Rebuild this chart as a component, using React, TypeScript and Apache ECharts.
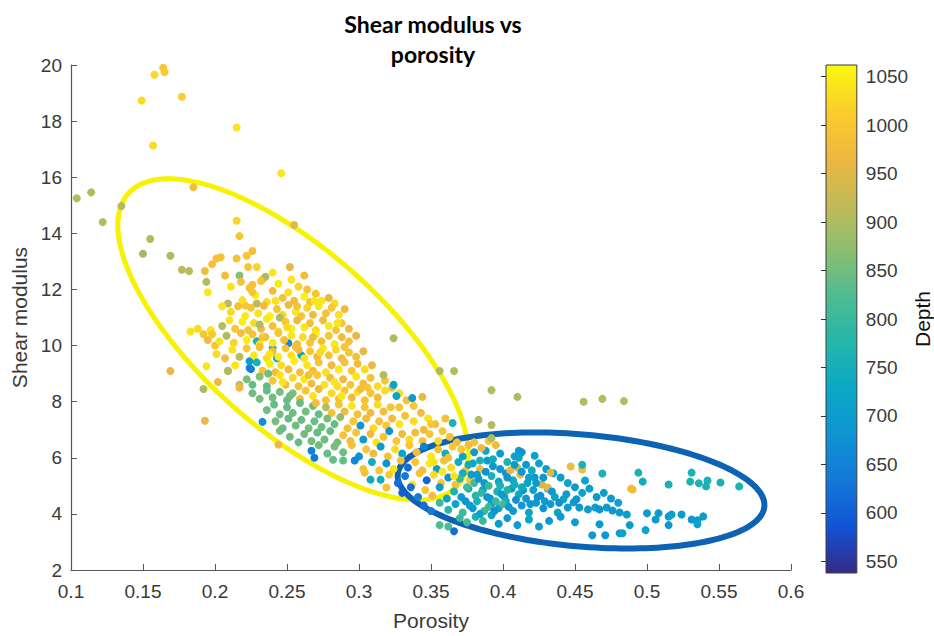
import React, { useEffect, useRef } from 'react';
import * as echarts from 'echarts';

// Each point: [porosity, shear modulus, depth]
const upperScatter = [
  [0.104, 15.25, 905], [0.114, 15.46, 905], [0.122, 14.4, 905], [0.135, 14.97, 905],
  [0.149, 18.73, 1030], [0.158, 19.65, 1030], [0.164, 19.9, 1000], [0.165, 19.75, 1010],
  [0.177, 18.87, 1010], [0.157, 17.13, 1030], [0.215, 17.77, 1040], [0.246, 16.14, 1040],
  [0.185, 15.64, 980], [0.215, 14.45, 1020], [0.217, 13.9, 1000], [0.255, 14.3, 950],
  [0.155, 13.8, 905], [0.15, 13.27, 890], [0.169, 13.2, 900], [0.177, 12.7, 910],
  [0.182, 12.66, 910], [0.193, 12.66, 980], [0.194, 12.27, 900], [0.195, 11.9, 1040],
  [0.198, 12.9, 990], [0.201, 13.1, 990], [0.204, 13.15, 990], [0.207, 12.5, 980],
  [0.209, 11.5, 910], [0.211, 12.1, 1040], [0.215, 13.1, 990], [0.217, 12.5, 870],
  [0.222, 13.2, 1000], [0.226, 13.37, 990], [0.223, 12.8, 1000], [0.229, 12.8, 1020],
  [0.226, 12.17, 990], [0.233, 12.35, 1020], [0.252, 12.8, 960], [0.218, 12.27, 990],
  [0.235, 12.45, 900], [0.205, 11.4, 1040], [0.221, 11.43, 1000], [0.24, 12.6, 1040],
  [0.262, 12.5, 980],
];

const leftScatter = [
  [0.169, 9.09, 960], [0.193, 7.32, 960], [0.192, 8.45, 900], [0.194, 9.26, 1040],
  [0.202, 8.7, 970], [0.209, 9.09, 900], [0.183, 10.5, 1040], [0.188, 10.6, 1030],
  [0.192, 10.4, 1000], [0.197, 10.55, 1040], [0.195, 10.2, 980], [0.2, 10.0, 1000],
  [0.217, 8.6, 910], [0.224, 9.2, 660], [0.243, 9.55, 720], [0.26, 9.65, 700],
  [0.229, 10.15, 760], [0.24, 9.9, 740], [0.251, 10.08, 660], [0.224, 9.44, 700],
  [0.233, 7.28, 670], [0.245, 6.96, 850], [0.244, 6.47, 970],
];

const coreUpper = [
  [0.219, 11.62, 1040], [0.224, 12.05, 990], [0.228, 11.8, 1050], [0.232, 12.3, 1000],
  [0.236, 11.55, 1030], [0.24, 11.95, 975], [0.244, 12.2, 1045], [0.247, 11.7, 990],
  [0.251, 11.9, 1035], [0.255, 11.6, 980], [0.258, 12.1, 1020], [0.262, 11.75, 1050],
  [0.266, 11.55, 985], [0.27, 11.85, 1000], [0.274, 11.6, 1040], [0.279, 11.7, 960],
  [0.283, 11.5, 1030], [0.229, 11.5, 910], [0.253, 12.35, 1040], [0.264, 12.0, 995],
  [0.211, 11.2, 1030], [0.216, 11.4, 985], [0.221, 11.05, 1045], [0.225, 11.35, 1000],
  [0.23, 11.15, 1035], [0.234, 11.42, 970], [0.238, 11.05, 1050], [0.243, 11.3, 990],
  [0.247, 11.1, 1030], [0.251, 11.45, 975], [0.256, 11.2, 1040], [0.26, 11.05, 995],
  [0.264, 11.35, 1020], [0.268, 11.1, 980], [0.272, 11.4, 1045], [0.277, 11.15, 990],
  [0.281, 11.35, 1000], [0.286, 11.1, 1035], [0.29, 11.3, 970], [0.245, 11.0, 900],
  [0.205, 10.7, 910], [0.21, 10.9, 1040], [0.214, 10.6, 1000], [0.219, 10.85, 1050],
  [0.223, 10.55, 990], [0.227, 10.8, 1030], [0.232, 10.6, 975], [0.236, 10.95, 1045],
  [0.24, 10.7, 985], [0.244, 10.5, 1035], [0.249, 10.85, 1000], [0.253, 10.6, 1050],
  [0.257, 10.9, 970], [0.262, 10.65, 1040], [0.266, 10.8, 990], [0.27, 10.55, 1030],
  [0.275, 10.9, 980], [0.279, 10.7, 1045], [0.284, 10.55, 995], [0.288, 10.8, 1000],
  [0.293, 10.6, 975], [0.231, 10.75, 900],
  [0.198, 10.4, 1000], [0.203, 10.15, 1040], [0.208, 10.35, 900], [0.213, 10.1, 1020],
  [0.218, 10.45, 985], [0.222, 10.2, 1050], [0.226, 10.4, 990], [0.231, 10.05, 1035],
  [0.235, 10.3, 975], [0.24, 10.1, 1045], [0.244, 10.45, 1000], [0.248, 10.2, 985],
  [0.253, 10.35, 1040], [0.257, 10.05, 970], [0.261, 10.3, 1030], [0.266, 10.1, 995],
  [0.27, 10.4, 1050], [0.274, 10.15, 985], [0.279, 10.35, 1000], [0.283, 10.05, 1040],
  [0.288, 10.3, 975], [0.293, 10.15, 990], [0.298, 10.35, 960],
  [0.201, 9.7, 1030], [0.207, 9.55, 980], [0.212, 9.85, 1040], [0.217, 9.6, 910],
  [0.222, 9.9, 1000], [0.227, 9.65, 1045], [0.231, 9.95, 985], [0.236, 9.55, 1030],
  [0.24, 9.8, 970], [0.244, 9.6, 1050], [0.249, 9.9, 995], [0.253, 9.65, 1035],
  [0.258, 9.85, 980], [0.262, 9.55, 1040], [0.266, 9.8, 1000], [0.271, 9.6, 970],
  [0.275, 9.9, 1045], [0.279, 9.65, 990], [0.284, 9.85, 1030], [0.288, 9.55, 975],
  [0.293, 9.75, 1000], [0.298, 9.6, 985], [0.303, 9.8, 960],
  [0.226, 11.9, 1000], [0.242, 11.6, 1035], [0.257, 11.4, 990], [0.269, 11.6, 1045],
  [0.233, 10.3, 1000], [0.25, 10.65, 1030], [0.268, 10.3, 980], [0.285, 10.8, 1040],
  [0.238, 9.7, 1040], [0.256, 9.95, 985], [0.273, 9.75, 1030], [0.29, 9.95, 995],
];

const coreMiddle = [
  [0.209, 9.1, 900], [0.214, 9.3, 1040], [0.225, 9.16, 650], [0.229, 9.4, 760],
  [0.233, 9.1, 1000], [0.238, 9.35, 1045], [0.242, 9.05, 985], [0.246, 9.3, 1030],
  [0.251, 9.15, 975], [0.255, 9.45, 1050], [0.259, 9.05, 990], [0.264, 9.3, 1040],
  [0.268, 9.1, 980], [0.272, 9.4, 1000], [0.277, 9.05, 1035], [0.281, 9.3, 970],
  [0.286, 9.15, 1045], [0.29, 9.4, 990], [0.295, 9.1, 1000], [0.299, 9.35, 980],
  [0.304, 9.15, 1030], [0.309, 9.3, 965], [0.237, 9.0, 850],
  [0.217, 8.5, 970], [0.222, 8.8, 860], [0.226, 8.6, 840], [0.231, 8.9, 870],
  [0.236, 8.55, 835], [0.24, 8.75, 1000], [0.245, 8.95, 1040], [0.249, 8.6, 985],
  [0.254, 8.85, 1030], [0.258, 8.55, 990], [0.262, 8.8, 1045], [0.267, 8.65, 975],
  [0.271, 8.95, 1000], [0.276, 8.6, 1040], [0.28, 8.85, 985], [0.285, 8.55, 1030],
  [0.289, 8.8, 970], [0.294, 8.6, 1000], [0.298, 8.9, 1045], [0.303, 8.65, 980],
  [0.308, 8.85, 990], [0.313, 8.55, 1030],
  [0.226, 8.3, 850], [0.231, 8.1, 855], [0.236, 8.4, 840], [0.24, 8.15, 850],
  [0.245, 8.35, 855], [0.25, 8.05, 840], [0.254, 8.3, 865], [0.259, 8.1, 980],
  [0.263, 8.4, 1000], [0.268, 8.2, 1040], [0.272, 8.45, 975], [0.277, 8.05, 990],
  [0.281, 8.3, 1030], [0.286, 8.1, 985], [0.29, 8.4, 1000], [0.295, 8.15, 970],
  [0.299, 8.35, 1040], [0.304, 8.05, 990], [0.308, 8.3, 1000], [0.313, 8.15, 975],
  [0.318, 8.4, 1030],
  [0.236, 7.7, 850], [0.241, 7.9, 840], [0.245, 7.55, 855], [0.25, 7.8, 845],
  [0.254, 7.6, 850], [0.259, 7.95, 840], [0.263, 7.65, 855], [0.268, 7.85, 845],
  [0.272, 7.55, 840], [0.277, 7.8, 910], [0.281, 7.6, 990], [0.286, 7.9, 1000],
  [0.29, 7.65, 975], [0.295, 7.85, 1040], [0.299, 7.55, 990], [0.304, 7.8, 1000],
  [0.308, 7.6, 970], [0.313, 7.9, 1030], [0.317, 7.65, 985], [0.322, 7.8, 1000],
  [0.247, 8.7, 1040], [0.265, 8.95, 990], [0.283, 8.7, 1040], [0.301, 8.45, 985],
  [0.252, 8.2, 850], [0.27, 7.95, 985], [0.288, 8.2, 1045], [0.306, 8.5, 1000],
];

const coreLower = [
  [0.242, 7.3, 855], [0.247, 7.05, 845], [0.251, 7.4, 840], [0.256, 7.15, 850],
  [0.26, 7.35, 840], [0.265, 7.05, 855], [0.269, 7.3, 845], [0.274, 7.1, 850],
  [0.278, 7.4, 855], [0.283, 7.2, 840], [0.287, 7.45, 880], [0.292, 7.05, 990],
  [0.296, 7.3, 1000], [0.301, 7.15, 690], [0.305, 7.4, 975], [0.31, 7.05, 1030],
  [0.314, 7.3, 990], [0.319, 7.15, 1000], [0.323, 7.4, 980], [0.328, 7.2, 1040],
  [0.252, 6.75, 850], [0.258, 6.55, 840], [0.262, 6.85, 855], [0.267, 6.6, 850],
  [0.271, 6.9, 840], [0.276, 6.65, 850], [0.28, 6.95, 840], [0.285, 6.55, 855],
  [0.289, 6.8, 990], [0.294, 6.6, 980], [0.298, 6.9, 1000], [0.303, 6.65, 700],
  [0.308, 6.85, 970], [0.312, 6.55, 1040], [0.317, 6.75, 990], [0.321, 6.95, 680],
  [0.326, 6.6, 1000], [0.33, 6.85, 975], [0.335, 6.65, 1030], [0.339, 6.9, 985],
  [0.344, 6.6, 990],
  [0.267, 6.25, 650], [0.272, 6.45, 850], [0.278, 6.15, 840], [0.283, 6.4, 855],
  [0.289, 6.2, 850], [0.295, 6.45, 990], [0.3, 6.05, 680], [0.305, 6.3, 1000],
  [0.31, 6.15, 975], [0.315, 6.4, 700], [0.32, 6.05, 990], [0.325, 6.3, 1030],
  [0.33, 6.15, 720], [0.335, 6.45, 1000], [0.34, 6.2, 980], [0.345, 6.4, 650],
  [0.35, 6.05, 1040], [0.355, 6.3, 985], [0.36, 6.15, 740],
];

const coreRightEdge = [
  [0.318, 8.75, 1000], [0.323, 8.5, 975], [0.328, 8.3, 1030], [0.333, 8.05, 990],
  [0.338, 7.85, 1000], [0.343, 7.6, 975], [0.348, 7.4, 1040], [0.353, 7.2, 985],
  [0.358, 6.95, 1000], [0.363, 6.75, 990], [0.355, 6.6, 1030], [0.368, 6.55, 980],
  [0.349, 6.85, 1000], [0.356, 9.09, 905], [0.366, 9.09, 905], [0.317, 8.95, 905],
  [0.324, 10.26, 905], [0.324, 8.6, 720], [0.326, 8.2, 720], [0.337, 8.13, 700],
  [0.344, 8.17, 960], [0.365, 7.24, 760], [0.36, 7.4, 990], [0.35, 7.2, 1000],
  [0.345, 7.0, 970], [0.338, 7.3, 1030], [0.332, 7.5, 990], [0.328, 7.8, 1000],
];

const transition = [
  [0.269, 6.0, 640], [0.282, 5.93, 840], [0.289, 5.9, 840], [0.297, 5.9, 660],
  [0.303, 5.6, 990], [0.309, 5.85, 740], [0.314, 5.55, 1000], [0.319, 5.8, 680],
  [0.324, 5.6, 1040], [0.329, 5.9, 990], [0.334, 5.65, 620], [0.339, 5.85, 1000],
  [0.344, 5.55, 980], [0.349, 5.8, 1045], [0.354, 5.6, 700], [0.359, 5.9, 990],
  [0.364, 5.65, 1030], [0.369, 5.85, 740], [0.374, 5.55, 1000], [0.379, 5.8, 720],
  [0.384, 5.6, 980], [0.389, 5.9, 700],
  [0.304, 5.47, 990], [0.308, 5.22, 740], [0.315, 5.22, 740], [0.321, 5.4, 1000],
  [0.327, 5.1, 620], [0.332, 5.35, 640], [0.337, 5.05, 1040], [0.342, 5.45, 990],
  [0.347, 5.2, 610], [0.352, 5.4, 1030], [0.357, 5.1, 1000], [0.362, 5.3, 680],
  [0.367, 5.05, 990], [0.372, 5.45, 740], [0.377, 5.2, 1000], [0.382, 5.4, 720],
  [0.387, 5.1, 700], [0.392, 5.35, 760], [0.397, 5.15, 720], [0.402, 5.45, 700],
  [0.407, 5.2, 740], [0.412, 5.4, 960], [0.417, 5.1, 720], [0.422, 5.3, 700],
];

const blueCluster = [
  [0.319, 4.94, 990], [0.33, 4.75, 600], [0.336, 4.95, 620], [0.341, 4.6, 640],
  [0.346, 4.85, 1000], [0.351, 4.65, 980], [0.356, 4.95, 700], [0.361, 4.55, 720],
  [0.366, 4.8, 760], [0.371, 4.6, 700], [0.376, 4.9, 740], [0.381, 4.65, 780],
  [0.386, 4.85, 720], [0.391, 4.55, 700], [0.396, 4.8, 760], [0.401, 4.6, 720],
  [0.406, 4.9, 700], [0.411, 4.7, 740], [0.416, 4.55, 700], [0.421, 4.85, 720],
  [0.426, 4.65, 680], [0.431, 4.9, 700], [0.436, 4.6, 720], [0.442, 4.52, 720],
  [0.449, 4.41, 700], [0.451, 4.52, 680],
  [0.345, 4.3, 620], [0.35, 4.1, 640], [0.356, 4.4, 800], [0.362, 4.15, 780],
  [0.367, 4.35, 720], [0.372, 4.05, 800], [0.377, 4.3, 700], [0.382, 4.45, 760],
  [0.387, 4.1, 800], [0.392, 4.35, 700], [0.397, 4.2, 720], [0.402, 4.45, 740],
  [0.407, 4.1, 700], [0.413, 4.3, 690], [0.418, 4.05, 720], [0.423, 4.4, 700],
  [0.428, 4.2, 680], [0.433, 4.35, 700], [0.438, 4.05, 720], [0.445, 4.23, 700],
  [0.453, 4.23, 690], [0.459, 4.16, 700], [0.464, 4.23, 720], [0.467, 4.16, 680],
  [0.472, 4.23, 700], [0.476, 4.12, 690], [0.481, 4.05, 700], [0.486, 3.98, 710],
  [0.5, 4.02, 700], [0.508, 4.02, 690],
  [0.356, 3.6, 820], [0.362, 3.55, 820], [0.366, 3.38, 620], [0.37, 3.85, 800],
  [0.375, 3.7, 810], [0.381, 3.9, 760], [0.386, 3.75, 800], [0.392, 3.95, 720],
  [0.397, 3.65, 700], [0.403, 3.85, 690], [0.41, 3.6, 700], [0.418, 3.8, 720],
  [0.425, 3.55, 700], [0.432, 3.75, 690], [0.44, 3.9, 700], [0.45, 3.7, 710],
  [0.462, 3.24, 700], [0.467, 3.63, 700], [0.471, 3.24, 690], [0.481, 3.31, 700],
  [0.483, 3.31, 710], [0.488, 3.6, 700], [0.499, 3.42, 720], [0.506, 3.8, 700],
  [0.515, 3.91, 700], [0.515, 3.6, 690], [0.517, 3.98, 710], [0.524, 3.98, 700],
  [0.531, 3.8, 690], [0.535, 3.77, 700], [0.535, 3.63, 710], [0.539, 3.91, 700],
  [0.372, 6.05, 720], [0.376, 5.75, 740], [0.38, 6.2, 700], [0.384, 5.9, 760],
  [0.388, 6.25, 720], [0.393, 5.95, 740], [0.398, 6.15, 700], [0.403, 5.85, 760],
  [0.408, 6.05, 720], [0.411, 6.25, 700], [0.413, 6.2, 680], [0.411, 6.0, 720],
  [0.422, 6.07, 720], [0.416, 5.75, 700], [0.42, 5.55, 740], [0.425, 5.8, 720],
  [0.43, 5.6, 700], [0.435, 5.45, 720], [0.44, 5.3, 700], [0.427, 5.05, 930],
  [0.431, 4.94, 950], [0.433, 5.47, 950], [0.445, 5.1, 720], [0.45, 4.95, 700],
  [0.455, 4.75, 720], [0.46, 4.9, 700], [0.465, 4.6, 690], [0.47, 4.75, 710],
  [0.475, 4.55, 700], [0.48, 4.4, 720],
  [0.375, 4.95, 800], [0.38, 5.1, 810], [0.385, 4.75, 790], [0.39, 5.0, 800],
  [0.37, 5.25, 800], [0.395, 4.45, 800], [0.4, 4.35, 810], [0.39, 4.25, 800],
  [0.352, 5.85, 1040], [0.358, 5.5, 1045], [0.362, 6.0, 990], [0.366, 5.35, 1040],
  [0.371, 6.3, 1000], [0.376, 6.45, 980], [0.38, 6.55, 990], [0.365, 6.4, 1000],
  [0.385, 6.35, 970], [0.39, 6.6, 1000], [0.395, 6.45, 980], [0.392, 6.7, 900],
  [0.405, 5.55, 960], [0.41, 5.65, 930],
  [0.374, 4.45, 690], [0.379, 4.2, 700], [0.384, 4.0, 720], [0.389, 4.6, 690],
  [0.394, 4.1, 680], [0.399, 4.7, 700], [0.404, 4.25, 690], [0.409, 4.5, 680],
  [0.414, 4.85, 700], [0.419, 4.35, 690], [0.424, 4.6, 680], [0.429, 4.45, 700],
  [0.434, 4.8, 690], [0.439, 4.4, 680], [0.444, 4.7, 700], [0.378, 5.4, 700],
  [0.383, 5.25, 690], [0.388, 5.5, 680], [0.393, 5.7, 700], [0.398, 5.6, 690],
  [0.403, 5.3, 680], [0.408, 5.75, 700], [0.413, 5.5, 690], [0.418, 5.3, 720],
  [0.423, 5.1, 700], [0.428, 5.3, 690], [0.398, 5.0, 760], [0.403, 4.85, 770],
  [0.408, 5.05, 750], [0.413, 4.95, 740],
];

const rightOutliers = [
  [0.392, 8.41, 905], [0.41, 8.17, 905], [0.456, 8.0, 905], [0.469, 8.1, 905],
  [0.484, 8.02, 905], [0.383, 7.35, 905], [0.392, 7.17, 905], [0.447, 5.69, 980],
  [0.455, 5.58, 980], [0.489, 4.9, 980], [0.49, 4.87, 980], [0.455, 5.75, 760],
  [0.469, 5.44, 760], [0.457, 5.19, 720], [0.494, 5.47, 760], [0.497, 5.15, 740],
  [0.515, 5.05, 760], [0.531, 5.47, 760], [0.53, 5.15, 760], [0.536, 5.09, 760],
  [0.542, 5.19, 760], [0.541, 4.98, 760], [0.551, 5.12, 760], [0.564, 4.98, 760],
];

const depthMin = 538;
const depthMax = 1062;
const depthTicks = [550, 600, 650, 700, 750, 800, 850, 900, 950, 1000, 1050];

// parula-like colour map, low depth -> high depth
const parula = [
  '#352a87', '#1253d4', '#1478d8', '#0f93d2', '#0aa8c6', '#25b5aa',
  '#4fbc90', '#8cbe70', '#c3ba57', '#efb740', '#fbcd2c', '#f9f90e',
];

// annotation ellipses: centre in data units, semi-axes in px, tilt in degrees (clockwise)
const yellowEllipse = [[0.2542, 10.22, 220, 90, 41.5]];
const blueEllipse = [[0.4542, 4.835, 184, 56, 5]];

const points = [
  ...upperScatter, ...leftScatter, ...coreUpper, ...coreMiddle, ...coreLower,
  ...coreRightEdge, ...transition, ...blueCluster, ...rightOutliers,
];

const axisColor = '#555555';
const labelColor = '#3a3a3a';
const fontFamily = "'Liberation Sans', Arial, sans-serif";

function ellipseRenderer(color: string, width: number) {
  return (params: any, api: any) => {
    const c = api.coord([api.value(0), api.value(1)]);
    const a = api.value(2);
    const b = api.value(3);
    const ang = (api.value(4) * Math.PI) / 180;
    const pts: number[][] = [];
    const n = 180;
    for (let i = 0; i <= n; i++) {
      const t = (i / n) * Math.PI * 2;
      const ex = a * Math.cos(t);
      const ey = b * Math.sin(t);
      pts.push([
        c[0] + ex * Math.cos(ang) - ey * Math.sin(ang),
        c[1] + ex * Math.sin(ang) + ey * Math.cos(ang),
      ]);
    }
    return {
      type: 'polygon',
      shape: { points: pts },
      style: { fill: 'none', stroke: color, lineWidth: width },
    };
  };
}

export default function App() {
  const ref = useRef<HTMLDivElement>(null);

  useEffect(() => {
    if (!ref.current) return;
    const chart = echarts.init(ref.current, undefined, { renderer: 'svg' });
    const option: any = {
      animation: false,
      backgroundColor: '#ffffff',
      textStyle: { fontFamily },
      graphic: [
        {
          type: 'text',
          x: 433,
          y: 9,
          style: {
            text: 'Shear modulus vs\nporosity',
            textAlign: 'center',
            align: 'center',
            fill: '#000000',
            fontFamily: 'Lato, sans-serif',
            fontWeight: 'bold',
            fontSize: 23,
            lineHeight: 30,
          },
        },
      ],
      grid: [
        { left: 71, top: 65, width: 720, height: 508 },
        { left: 826, top: 65, width: 38, height: 508 },
      ],
      xAxis: [
        {
          gridIndex: 0,
          type: 'value',
          min: 0.1,
          max: 0.6,
          interval: 0.05,
          name: 'Porosity',
          nameLocation: 'middle',
          nameGap: 40,
          nameTextStyle: { fontSize: 21, color: labelColor, fontFamily },
          axisLine: { show: true, lineStyle: { color: axisColor, width: 1.2 } },
          axisTick: { show: true, inside: true, length: 6, lineStyle: { color: axisColor } },
          axisLabel: { fontSize: 19, color: labelColor, margin: 12, fontFamily },
          splitLine: { show: false },
        },
        { gridIndex: 1, type: 'value', min: 0, max: 1, show: false },
      ],
      yAxis: [
        {
          gridIndex: 0,
          type: 'value',
          min: 2,
          max: 20,
          interval: 2,
          name: 'Shear modulus',
          nameLocation: 'middle',
          nameRotate: 90,
          nameGap: 40,
          nameTextStyle: { fontSize: 21, color: labelColor, fontFamily },
          axisLine: { show: true, lineStyle: { color: axisColor, width: 1.2 } },
          axisTick: { show: true, inside: true, length: 6, lineStyle: { color: axisColor } },
          axisLabel: { fontSize: 19, color: labelColor, margin: 9, fontFamily },
          splitLine: { show: false },
        },
        {
          gridIndex: 1,
          type: 'value',
          min: depthMin,
          max: depthMax,
          position: 'right',
          name: 'Depth',
          nameLocation: 'middle',
          nameRotate: 90,
          nameGap: 50,
          nameTextStyle: { fontSize: 21, color: '#111111', fontFamily },
          axisLine: { show: false },
          axisTick: {
            show: true,
            inside: true,
            length: 5,
            customValues: depthTicks,
            lineStyle: { color: '#333333' },
          },
          axisLabel: {
            fontSize: 19,
            color: labelColor,
            margin: 9,
            customValues: depthTicks,
            fontFamily,
            formatter: (v: number) => String(v),
          },
          splitLine: { show: false },
        },
      ],
      visualMap: {
        type: 'continuous',
        show: false,
        min: depthMin,
        max: depthMax,
        dimension: 2,
        seriesIndex: 0,
        inRange: { color: parula },
      },
      series: [
        {
          type: 'scatter',
          xAxisIndex: 0,
          yAxisIndex: 0,
          symbol: 'circle',
          symbolSize: 8,
          data: points,
          itemStyle: { opacity: 1 },
        },
        {
          type: 'custom',
          xAxisIndex: 0,
          yAxisIndex: 0,
          data: yellowEllipse,
          renderItem: ellipseRenderer('#f7f200', 5),
          silent: true,
        },
        {
          type: 'custom',
          xAxisIndex: 0,
          yAxisIndex: 0,
          data: blueEllipse,
          renderItem: ellipseRenderer('#0d63b3', 6),
          silent: true,
        },
        {
          type: 'custom',
          xAxisIndex: 1,
          yAxisIndex: 1,
          data: [[0, depthMin, 1, depthMax]],
          silent: true,
          renderItem: (params: any, api: any) => {
            const p0 = api.coord([api.value(0), api.value(3)]);
            const p1 = api.coord([api.value(2), api.value(1)]);
            const stops = parula.map((c, i) => ({ offset: i / (parula.length - 1), color: c }));
            return {
              type: 'rect',
              shape: { x: p0[0], y: p0[1], width: p1[0] - p0[0], height: p1[1] - p0[1] },
              style: {
                fill: new echarts.graphic.LinearGradient(0, 1, 0, 0, stops),
                stroke: '#3c3c3c',
                lineWidth: 1,
              },
            };
          },
        },
      ],
    };
    chart.setOption(option);
    return () => {
      chart.dispose();
    };
  }, []);

  return (
    <div
      ref={ref}
      style={{ position: 'fixed', left: 0, top: 0, width: 934, height: 636, background: '#fff' }}
    />
  );
}
